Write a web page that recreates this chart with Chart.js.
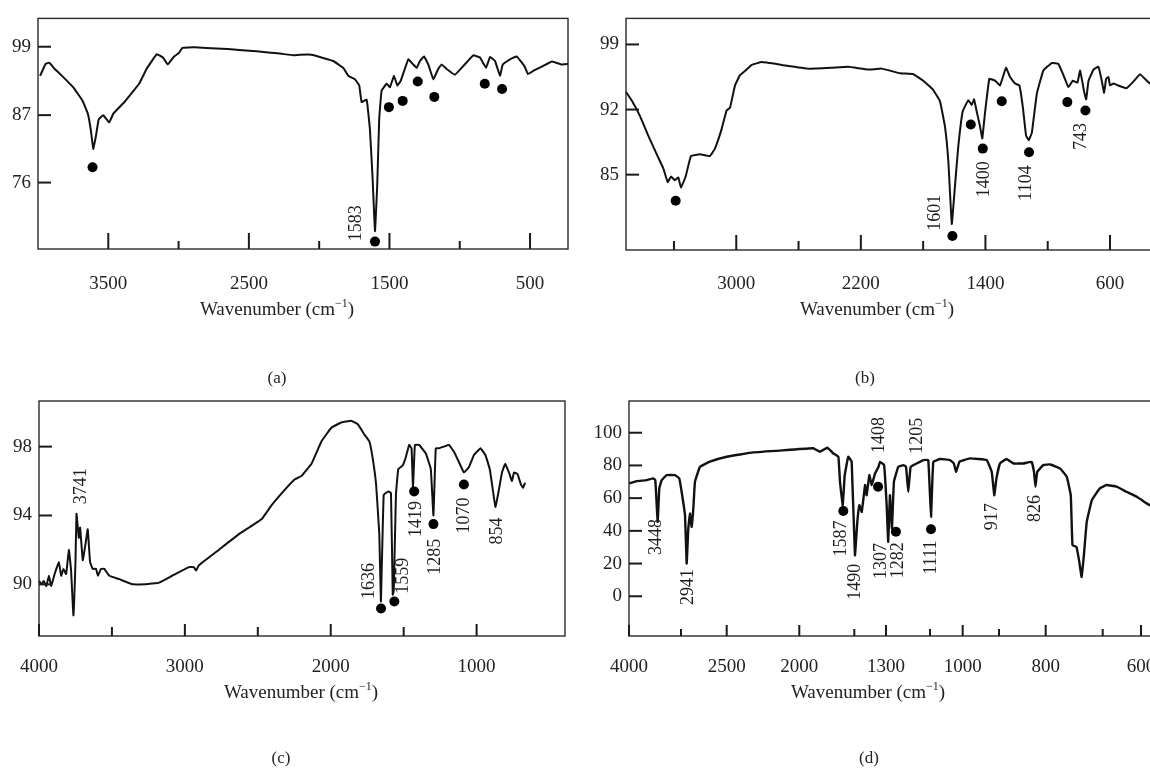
<!DOCTYPE html>
<html><head><meta charset="utf-8">
<script src="https://cdn.jsdelivr.net/npm/chart.js@4/dist/chart.umd.min.js"></script>
<style>
html,body{margin:0;padding:0;background:#fff;width:1150px;height:771px;overflow:hidden;position:relative;}
canvas{position:absolute;}
.t{position:absolute;transform:translate(-50%,-50%);font-family:'Liberation Serif','DejaVu Serif',serif;font-size:19px;color:#222;white-space:nowrap;line-height:1;}
.t sup{font-size:12px;vertical-align:0;position:relative;top:-8px;}
.p{font-size:17px;}
</style></head><body>
<canvas id="ca" width="575" height="340" style="left:0;top:0"></canvas>
<canvas id="cb" width="625" height="340" style="left:575px;top:0"></canvas>
<canvas id="cc" width="575" height="340" style="left:0;top:380px"></canvas>
<canvas id="cd" width="625" height="340" style="left:575px;top:380px"></canvas>
<div class="t" style="left:277px;top:308px">Wavenumber (cm<sup>−1</sup>)</div>
<div class="t" style="left:877px;top:308px">Wavenumber (cm<sup>−1</sup>)</div>
<div class="t" style="left:301px;top:691px">Wavenumber (cm<sup>−1</sup>)</div>
<div class="t" style="left:868px;top:691px">Wavenumber (cm<sup>−1</sup>)</div>
<div class="t p" style="left:277px;top:377px">(a)</div>
<div class="t p" style="left:865px;top:377px">(b)</div>
<div class="t p" style="left:281px;top:757px">(c)</div>
<div class="t p" style="left:869px;top:757px">(d)</div>
<script>
// ---------- Panel (a) ----------
const aWavenumber = [3985,3946,3920,3881,3842,3750,3685,3646,3625,3607,3588,3568,3536,3494,3463,3385,3281,3228,3155,3111,3077,3032,2998,2973,2889,2650,2445,2279,2184,2137,2054,1995,1900,1829,1793,1746,1715,1698,1662,1639,1620,1603,1587,1573,1556,1520,1496,1468,1444,1420,1366,1331,1306,1283,1254,1224,1188,1153,1129,1093,1034,975,904,856,813,785,749,714,694,642,595,540,515,475,409,344,279,230];
const aTransmittance = [93.9,96.0,96.2,95.1,94.2,91.9,89.6,87.3,84.7,81.5,83.6,86.3,87.0,85.8,87.3,89.3,92.5,95.1,97.7,97.1,95.9,97.3,97.9,98.8,98.9,98.6,98.2,97.8,97.5,97.6,97.6,97.2,96.5,95.3,93.9,93.3,92.2,89.3,89.7,84.7,76.7,68.1,75.6,86.3,91.3,92.5,91.9,93.9,92.2,93.0,96.8,95.9,95.3,96.5,97.3,95.9,93.3,95.1,95.9,95.1,94.1,95.6,97.5,97.1,95.3,97.2,96.5,93.9,95.9,96.8,97.3,95.6,94.2,94.8,95.6,96.4,95.9,96.0];
const aPeakWavenumber = [3612,1603,1504,1406,1299,1181,822,699];
const aPeakTransmittance = [78.5,66.4,88.4,89.5,92.9,90.2,92.5,91.6];
const aLabelText = ['1583'];
const aLabelWavenumber = [1733];
const aLabelTransmittance = [69.4];
const aTickValuesX = [3500,3000,2500,2000,1500,1000,500];
const aTickLabelsX = ['3500','','2500','','1500','','500'];
const aTickValuesY = [99,87,76];
const aTickLabelsY = ['99','87','76'];

// ---------- Panel (b) ----------
const bWavenumber = [3708,3672,3618,3565,3511,3469,3440,3419,3394,3372,3355,3325,3291,3233,3169,3137,3094,3062,3040,3008,2976,2940,2901,2837,2708,2537,2387,2281,2152,2066,1948,1863,1799,1735,1692,1660,1638,1616,1595,1574,1546,1510,1488,1473,1456,1435,1420,1403,1375,1338,1306,1268,1242,1210,1182,1160,1139,1122,1102,1070,1028,974,931,899,867,839,809,792,766,753,738,706,674,653,638,625,610,600,578,535,493,450,407,364,343,300];
const bTransmittance = [93.9,93.0,91.3,89.2,87.2,85.7,84.2,84.8,84.4,84.7,83.6,84.8,87.0,87.2,87.0,87.8,89.9,91.9,92.2,94.6,95.7,96.2,96.8,97.1,96.8,96.4,96.5,96.6,96.3,96.4,95.9,95.8,95.1,94.1,92.9,90.2,86.4,79.7,83.9,88.1,91.8,93.0,92.5,93.1,91.8,90.2,88.9,91.6,95.3,95.1,94.6,96.5,95.5,94.8,94.6,92.3,89.2,88.7,89.5,93.7,96.2,97.0,96.9,95.7,94.4,95.1,94.9,96.2,93.9,93.1,95.1,96.3,96.6,95.1,93.8,95.3,95.5,94.6,94.8,94.5,94.3,95.0,95.8,95.1,94.8,94.6];
const bPeakWavenumber = [3389,1612,1494,1417,1295,1120,874,758];
const bPeakTransmittance = [82.2,78.4,90.4,87.8,92.9,87.4,92.8,91.9];
const bLabelText = ['1601','1400','1104','743'];
const bLabelWavenumber = [1724,1407,1135,782];
const bLabelTransmittance = [80.9,84.5,84.1,89.1];
const bTickValuesX = [3400,3000,2600,2200,1800,1400,1000,600];
const bTickLabelsX = ['','3000','','2200','','1400','','600'];
const bTickValuesY = [99,92,85];
const bTickLabelsY = ['99','92','85'];

// ---------- Panel (c) ----------
const cWavenumber = [4000,3984,3968,3950,3932,3916,3893,3864,3848,3832,3814,3795,3780,3764,3750,3743,3727,3718,3700,3682,3666,3650,3632,3609,3596,3575,3552,3518,3450,3359,3269,3177,3087,2973,2939,2923,2905,2768,2632,2473,2405,2314,2246,2200,2132,2064,1996,1928,1860,1814,1769,1735,1712,1689,1667,1656,1637,1605,1587,1575,1568,1553,1537,1507,1485,1462,1446,1436,1423,1394,1348,1314,1296,1280,1258,1224,1189,1155,1121,1087,1053,1019,973,939,910,894,871,849,826,804,774,758,743,719,696,682,667];
const cTransmittance = [90.2,90.0,90.2,89.9,90.5,89.9,90.6,91.3,90.5,90.9,90.6,92.0,90.8,88.2,91.3,94.1,92.7,93.3,91.4,92.3,93.2,91.3,90.9,90.9,90.5,90.9,90.9,90.5,90.3,90.0,90.0,90.1,90.5,91.0,91.0,90.8,91.1,92.0,92.9,93.8,94.6,95.5,96.1,96.3,97.0,98.3,99.1,99.4,99.5,99.3,98.7,98.3,97.3,95.8,92.9,89.0,95.2,95.4,95.3,89.4,89.6,95.2,96.7,96.9,97.4,98.1,97.9,95.6,98.1,98.1,97.6,96.7,94.0,97.9,97.9,98.0,98.1,97.7,97.1,96.5,96.8,97.5,97.9,97.5,96.7,95.8,94.5,95.4,96.5,97.0,96.4,96.0,96.5,96.4,95.8,95.6,95.9];
const cPeakWavenumber = [1655,1564,1428,1296,1087];
const cPeakTransmittance = [88.6,89.0,95.4,93.5,95.8];
const cLabelText = ['3741','1636','1559','1419','1285','1070','854'];
const cLabelWavenumber = [3712,1735,1500,1416,1280,1083,860];
const cLabelTransmittance = [95.7,90.2,90.5,93.8,91.6,94.0,93.1];
const cTickValuesX = [4000,3500,3000,2500,2000,1500,1000];
const cTickLabelsX = ['4000','','3000','','2000','','1000'];
const cTickValuesY = [98,94,90];
const cTickLabelsY = ['98','94','90'];

// ---------- Panel (d) ----------
const dWavenumber = [4000,3852,3660,3533,3494,3467,3448,3417,3371,3275,3115,3033,2993,2956,2938,2920,2902,2883,2865,2847,2792,2683,2500,2317,2087,1873,1812,1745,1691,1645,1630,1605,1587,1555,1524,1496,1481,1468,1453,1432,1422,1405,1390,1369,1347,1338,1312,1297,1290,1282,1273,1264,1244,1221,1209,1199,1188,1161,1130,1108,1097,1090,1069,1039,1027,1020,1010,980,934,920,913,907,898,884,869,848,830,825,822,818,805,792,775,763,756,753,746,741,737,733,728,719,705,690,664,638,611,585,577,560];
const dTransmittance = [69.0,70.4,71.0,72.1,71.0,55.7,45.5,66.0,71.0,74.1,74.1,72.1,63.9,49.6,20.0,41.5,50.6,42.4,53.7,70.0,79.2,82.3,85.3,88.0,89.4,90.5,88.4,90.8,87.3,85.3,70.0,55.7,74.1,85.3,82.3,25.1,45.5,55.7,51.6,68.0,61.8,74.1,68.0,75.1,79.2,82.2,80.2,55.7,33.3,61.8,41.5,70.0,79.2,80.2,79.2,63.9,79.2,81.2,83.3,83.3,48.6,82.2,83.9,83.3,81.2,76.1,82.2,84.3,83.3,76.1,61.8,72.1,81.2,83.9,81.2,81.2,82.2,76.1,67.0,76.1,80.2,80.6,78.2,73.1,61.8,31.2,30.2,21.0,11.8,25.1,45.5,58.8,66.0,68.0,67.0,63.9,60.8,56.8,55.7,54.5];
const dPeakWavenumber = [1600,1350,1255,1097];
const dPeakTransmittance = [52.1,67.0,39.4,41.0];
const dLabelText = ['3448','2941','1587','1490','1408','1307','1282','1205','1111','917','826'];
const dLabelWavenumber = [3467,2920,1619,1496,1342,1329,1244,1160,1095,918,823];
const dLabelTransmittance = [36.3,5.7,35.3,8.8,98.6,21.6,22.0,98.1,23.7,48.6,53.7];
const dTickValuesX = [4000,3000,2500,2000,1500,1300,1100,1000,900,800,700,600];
const dTickLabelsX = ['4000','','2500','2000','','1300','','1000','','800','','600'];
const dTickValuesY = [100,80,60,40,20,0];
const dTickLabelsY = ['100','80','60','40','20','0'];

// ---------- Axis calibration (value, fraction of axis length) ----------
const AXES = {
  ca: { x: [[4000,0],[230,1]], y: [[65.2,0],[76,0.2881],[87,0.5805],[99,0.8771],[104,1]] },
  cb: { x: [[3708,0],[279,1]], y: [[76.9,0],[101.8,1]] },
  cc: { x: [[4000,0],[394,1]], y: [[87.0,0],[100.65,1]] },
  cd: { x: [[4000,0],[3000,0.0979],[2500,0.1840],[2000,0.3207],[1500,0.4243],[1300,0.4840],[1100,0.5669],[1000,0.6284],[900,0.6968],[800,0.7847],[700,0.8921],[600,0.9642],[550,1]],
        y: [[-24.3,0],[119.4,1]] }
};

const LinearBase = Chart.LinearScale || Chart.registry.getScale('linear');
class PiecewiseScale extends LinearBase {
  _anch() { return AXES[this.chart.canvas.id][this.id]; }
  determineDataLimits() {
    const v = this._anch().map(p => p[0]);
    this.min = Math.min(...v); this.max = Math.max(...v);
  }
  buildTicks() { return this.options.tickValues.map(v => ({ value: v })); }
  _frac(v) {
    const a = this._anch(); let i = 0;
    for (i = 0; i < a.length - 2; i++) {
      const lo = Math.min(a[i][0], a[i+1][0]), hi = Math.max(a[i][0], a[i+1][0]);
      if (v >= lo && v <= hi) break;
    }
    const [v0, f0] = a[i], [v1, f1] = a[i+1];
    return f0 + (v - v0) / (v1 - v0) * (f1 - f0);
  }
  getPixelForValue(v) {
    if (v === null || v === undefined || isNaN(v)) return NaN;
    return this.getPixelForDecimal(this._frac(v));
  }
  getValueForPixel(p) {
    const f = this.getDecimalForPixel(p); const a = this._anch(); let i;
    for (i = 0; i < a.length - 2; i++) if (f >= a[i][1] && f <= a[i+1][1]) break;
    const [v0, f0] = a[i], [v1, f1] = a[i+1];
    return v0 + (f - f0) / (f1 - f0) * (v1 - v0);
  }
}
PiecewiseScale.id = 'piecewise';
PiecewiseScale.defaults = {};
Chart.register(PiecewiseScale);

const FONT = "'Liberation Serif','DejaVu Serif',serif";
const PANELS = {};

const decor = {
  id: 'decor',
  afterDraw(chart) {
    const c = PANELS[chart.canvas.id];
    const { ctx, chartArea: a } = chart;
    const x = chart.scales.x, y = chart.scales.y;
    ctx.save();
    ctx.strokeStyle = '#2a2a2a'; ctx.lineWidth = 1.4;
    ctx.strokeRect(a.left, a.top, a.right - a.left, a.bottom - a.top);
    ctx.strokeStyle = '#1a1a1a'; ctx.lineWidth = 2;
    c.xTicks.forEach((v, i) => {
      const len = c.xLabels[i] ? c.major : c.minor;
      const px = x.getPixelForValue(v);
      ctx.beginPath(); ctx.moveTo(px, a.bottom); ctx.lineTo(px, a.bottom - len); ctx.stroke();
    });
    c.yTicks.forEach(v => {
      const py = y.getPixelForValue(v);
      ctx.beginPath(); ctx.moveTo(a.left, py); ctx.lineTo(a.left + 13, py); ctx.stroke();
    });
    ctx.fillStyle = '#1e1e1e';
    ctx.font = '18px ' + FONT;
    ctx.textAlign = 'center'; ctx.textBaseline = 'middle';
    c.lt.forEach((t, i) => {
      ctx.save();
      ctx.translate(x.getPixelForValue(c.lx[i]), y.getPixelForValue(c.ly[i]));
      ctx.rotate(-Math.PI / 2);
      ctx.fillText(t, 0, 0);
      ctx.restore();
    });
    ctx.restore();
  }
};

function makePanel(id, c) {
  PANELS[id] = c;
  new Chart(document.getElementById(id), {
    type: 'scatter',
    data: { datasets: [
      { data: c.wn.map((w, i) => ({ x: w, y: c.val[i] })), showLine: true, borderColor: '#111',
        borderWidth: c.lw, pointRadius: 0, tension: 0.08, order: 2 },
      { data: c.px.map((w, i) => ({ x: w, y: c.py[i] })), showLine: false, pointRadius: 5,
        pointBackgroundColor: '#000', pointBorderWidth: 0, order: 1 }
    ]},
    options: {
      responsive: false, animation: false, devicePixelRatio: 1, events: [],
      layout: { padding: c.pad },
      plugins: { legend: { display: false }, tooltip: { enabled: false } },
      scales: {
        x: { type: 'piecewise', tickValues: c.xTicks,
             grid: { display: false, drawTicks: false }, border: { display: false },
             ticks: { autoSkip: false, maxRotation: 0, minRotation: 0, padding: c.xPad, color: '#222',
                      font: { family: FONT, size: 19 }, callback: (v, i) => c.xLabels[i] },
             afterFit: s => { s.height = 50; } },
        y: { type: 'piecewise', tickValues: c.yTicks,
             grid: { display: false, drawTicks: false }, border: { display: false },
             ticks: { autoSkip: false, padding: 7, color: '#222',
                      font: { family: FONT, size: 19 }, callback: (v, i) => c.yLabels[i] },
             afterFit: s => { s.width = c.yW; } }
      }
    },
    plugins: [decor]
  });
}

makePanel('ca', { wn: aWavenumber, val: aTransmittance, px: aPeakWavenumber, py: aPeakTransmittance,
  lt: aLabelText, lx: aLabelWavenumber, ly: aLabelTransmittance,
  xTicks: aTickValuesX, xLabels: aTickLabelsX, yTicks: aTickValuesY, yLabels: aTickLabelsY,
  major: 16, minor: 8, lw: 2, yW: 38, xPad: 24, pad: { left: 0, top: 13, right: 7, bottom: 41 } });
makePanel('cb', { wn: bWavenumber, val: bTransmittance, px: bPeakWavenumber, py: bPeakTransmittance,
  lt: bLabelText, lx: bLabelWavenumber, ly: bLabelTransmittance,
  xTicks: bTickValuesX, xLabels: bTickLabelsX, yTicks: bTickValuesY, yLabels: bTickLabelsY,
  major: 15, minor: 9, lw: 2, yW: 51, xPad: 23, pad: { left: 0, top: 13, right: 40, bottom: 40 } });
makePanel('cc', { wn: cWavenumber, val: cTransmittance, px: cPeakWavenumber, py: cPeakTransmittance,
  lt: cLabelText, lx: cLabelWavenumber, ly: cLabelTransmittance,
  xTicks: cTickValuesX, xLabels: cTickLabelsX, yTicks: cTickValuesY, yLabels: cTickLabelsY,
  major: 12, minor: 9, lw: 2, yW: 36, xPad: 20, pad: { left: 0, top: 21, right: 10, bottom: 34 } });
makePanel('cd', { wn: dWavenumber, val: dTransmittance, px: dPeakWavenumber, py: dPeakTransmittance,
  lt: dLabelText, lx: dLabelWavenumber, ly: dLabelTransmittance,
  xTicks: dTickValuesX, xLabels: dTickLabelsX, yTicks: dTickValuesY, yLabels: dTickLabelsY,
  major: 11, minor: 7, lw: 2.4, yW: 54, xPad: 20, pad: { left: 0, top: 21, right: 40, bottom: 34 } });
</script>
</body></html>
